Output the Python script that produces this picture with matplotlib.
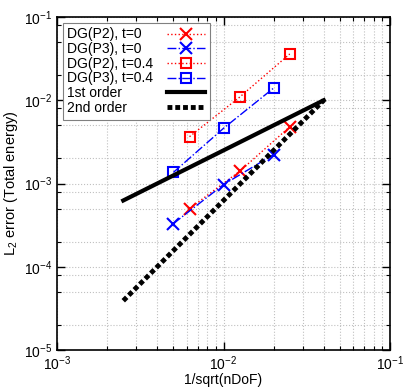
import numpy as np
import matplotlib
matplotlib.use('Agg')
import matplotlib.pyplot as plt
from matplotlib.ticker import LogLocator, NullFormatter

plt.rcParams['font.family'] = ['Liberation Sans', 'DejaVu Sans']
plt.rcParams['mathtext.fontset'] = 'custom'
plt.rcParams['mathtext.rm'] = 'Liberation Sans'
plt.rcParams['mathtext.it'] = 'Liberation Sans'

# mesh sizes, 1/sqrt(nDoF)
h_p2 = [0.00625, 0.0125, 0.025]
h_p3 = [0.005, 0.01, 0.02]

# L2 errors of total energy
err_p2_t0 = [5.0e-4, 1.4e-3, 4.8e-3]
err_p3_t0 = [3.3e-4, 9.7e-4, 2.23e-3]
err_p2_t04 = [3.65e-3, 1.09e-2, 3.6e-2]
err_p3_t04 = [1.36e-3, 4.6e-3, 1.40e-2]

# reference slopes
h_ref = [0.0025, 0.04]
ref_1st = [6.25e-4, 1.0e-2]
ref_2nd = [3.90625e-5, 1.0e-2]

fig = plt.figure(figsize=(4.15, 3.88), dpi=100)
ax = fig.add_axes([57/415, 38/388, 333/415, 333/388])

ax.plot(h_p2, err_p2_t0, color='red', ls=':', lw=1, marker='x', ms=9, mew=1.5, label='DG(P2), t=0')
ax.plot(h_p3, err_p3_t0, color='blue', ls='-.', lw=1, marker='x', ms=9, mew=1.5, label='DG(P3), t=0')
ax.plot(h_p2, err_p2_t04, color='red', ls=':', lw=1, marker='s', ms=7.5, mew=1.5, mfc='none', label='DG(P2), t=0.4')
ax.plot(h_p3, err_p3_t04, color='blue', ls='-.', lw=1, marker='s', ms=7.5, mew=1.5, mfc='none', label='DG(P3), t=0.4')
ax.plot(h_ref, ref_1st, color='black', ls='-', lw=3, label='1st order')
ax.plot(h_ref, ref_2nd, color='black', ls=(0, (1, 0.6)), lw=3.5, label='2nd order')

ax.set_xscale('log')
ax.set_yscale('log')
ax.set_xlim(1e-3, 1e-1)
ax.set_ylim(1e-5, 1e-1)

ax.xaxis.set_minor_locator(LogLocator(base=10, subs=np.arange(2, 10)))
ax.yaxis.set_minor_locator(LogLocator(base=10, subs=[2, 5, 8]))
ax.xaxis.set_minor_formatter(NullFormatter())
ax.yaxis.set_minor_formatter(NullFormatter())

ax.tick_params(which='both', direction='in', top=True, right=True, labelsize=10)
ax.tick_params(which='major', length=6, width=1)
ax.tick_params(which='minor', length=3, width=0.8)
ax.grid(True, which='both', color='#c0c0c0', ls=':', lw=0.8)
for s in ax.spines.values():
  s.set_linewidth(1.2)

ax.set_xlabel('1/sqrt(nDoF)', fontsize=10, labelpad=0)
ax.set_ylabel('L$_2$ error (Total energy)', fontsize=10.5, labelpad=3)

leg = ax.legend(loc='upper left', markerfirst=False, fontsize=10, frameon=True,
                fancybox=False, edgecolor='#808080', framealpha=1,
                handlelength=2.8, handletextpad=1.0, labelspacing=0.05,
                borderpad=0.35, borderaxespad=0.4)
leg.get_frame().set_linewidth(0.8)

# gnuplot style key: text flush left, sample flush right
for col in leg._legend_handle_box.get_children():
  for row in col.get_children():
    row.mode = 'expand'
    row.width = 138

plt.savefig('out.png', dpi=100)
plt.close()
